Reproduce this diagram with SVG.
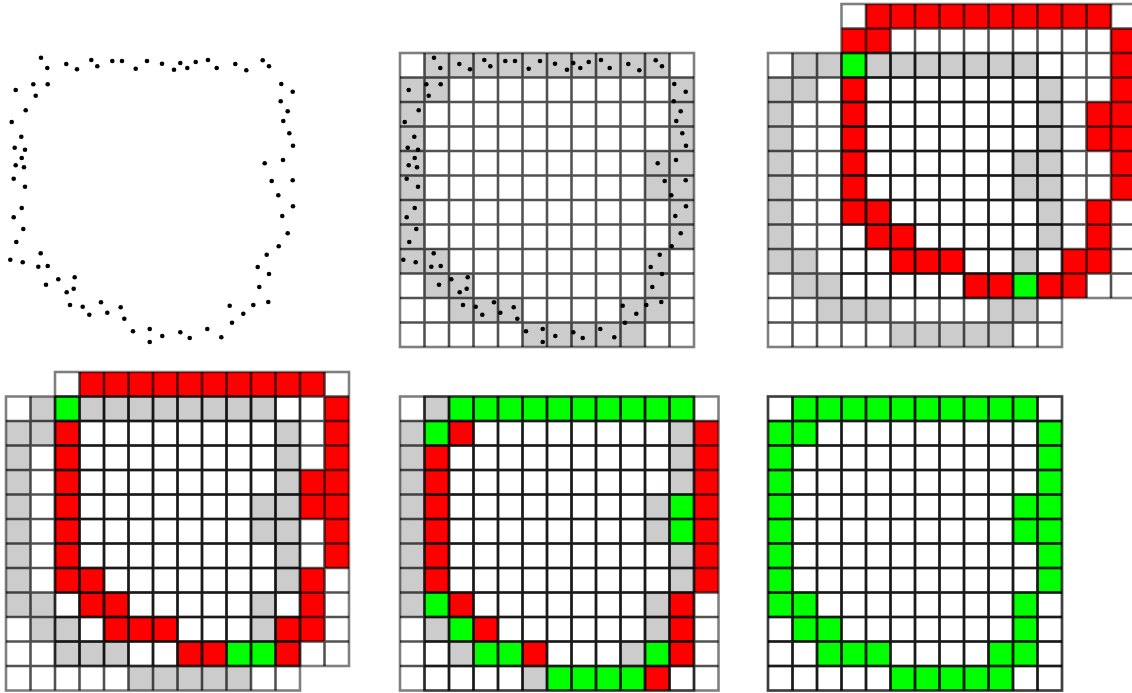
<svg xmlns="http://www.w3.org/2000/svg" xmlns:xlink="http://www.w3.org/1999/xlink" width="1132" height="693" viewBox="0 0 1132 693">
<style>
.g{fill:#cccccc}.r{fill:#ff0000}.n{fill:#00ff00}
.li{fill:none;stroke:#000;stroke-opacity:.68;stroke-width:.105}
.lo{fill:none;stroke:#000;stroke-opacity:.5;stroke-width:.105}
.dt{fill:#000}
</style>
<defs>
<path id="gl" d="M1 0V12M2 0V12M3 0V12M4 0V12M5 0V12M6 0V12M7 0V12M8 0V12M9 0V12M10 0V12M11 0V12M0 1H12M0 2H12M0 3H12M0 4H12M0 5H12M0 6H12M0 7H12M0 8H12M0 9H12M0 10H12M0 11H12"/>
<rect id="gb" width="12" height="12"/>
<path id="G" d="M1 0h10v1h-10zM0 1h2v1h-2zM11 1h1v1h-1zM0 2h1v6h-1zM11 2h1v2h-1zM10 4h2v2h-2zM11 6h1v2h-1zM0 8h2v1h-2zM10 8h1v2h-1zM1 9h2v1h-2zM2 10h3v1h-3zM9 10h2v1h-2zM5 11h5v1h-5z"/>
<g id="dots" class="dt">
<circle cx="41" cy="57.7" r="2.3"/><circle cx="47.3" cy="68" r="2.3"/><circle cx="66.3" cy="64" r="2.3"/><circle cx="77" cy="69.3" r="2.3"/><circle cx="91.3" cy="60" r="2.3"/><circle cx="97.3" cy="66.3" r="2.3"/><circle cx="112.3" cy="61" r="2.3"/><circle cx="122" cy="61" r="2.3"/><circle cx="135.7" cy="68.7" r="2.3"/><circle cx="147" cy="61" r="2.3"/><circle cx="162" cy="63.7" r="2.3"/><circle cx="174" cy="69.7" r="2.3"/><circle cx="180.3" cy="63" r="2.3"/><circle cx="187.3" cy="68" r="2.3"/><circle cx="195.7" cy="62" r="2.3"/><circle cx="208" cy="60" r="2.3"/><circle cx="216.7" cy="68" r="2.3"/><circle cx="235.3" cy="64" r="2.3"/><circle cx="246.3" cy="70.3" r="2.3"/><circle cx="262.7" cy="60.3" r="2.3"/><circle cx="269" cy="66.3" r="2.3"/>
<circle cx="15.7" cy="90" r="2.3"/><circle cx="33.3" cy="84.3" r="2.3"/><circle cx="47.7" cy="84.3" r="2.3"/><circle cx="35.7" cy="95.7" r="2.3"/><circle cx="281.3" cy="84" r="2.3"/><circle cx="292.7" cy="91.7" r="2.3"/><circle cx="280.7" cy="101.3" r="2.3"/><circle cx="287.7" cy="111.3" r="2.3"/><circle cx="25.7" cy="110.3" r="2.3"/><circle cx="11.7" cy="122" r="2.3"/><circle cx="283.3" cy="121" r="2.3"/><circle cx="289.3" cy="133.3" r="2.3"/><circle cx="21.3" cy="136.7" r="2.3"/><circle cx="293" cy="145.7" r="2.3"/><circle cx="14.7" cy="147.7" r="2.3"/><circle cx="25" cy="149.7" r="2.3"/><circle cx="21.7" cy="158" r="2.3"/><circle cx="15.7" cy="165.3" r="2.3"/><circle cx="24" cy="167.3" r="2.3"/><circle cx="283" cy="160" r="2.3"/><circle cx="264.7" cy="163.3" r="2.3"/><circle cx="13.7" cy="178.7" r="2.3"/><circle cx="25" cy="186.7" r="2.3"/><circle cx="271.7" cy="181" r="2.3"/><circle cx="292.7" cy="180.3" r="2.3"/><circle cx="278.3" cy="195.3" r="2.3"/><circle cx="293" cy="206.3" r="2.3"/><circle cx="21.7" cy="208" r="2.3"/><circle cx="13.7" cy="217.3" r="2.3"/><circle cx="282.3" cy="216" r="2.3"/><circle cx="23.3" cy="229" r="2.3"/><circle cx="287.7" cy="233.3" r="2.3"/><circle cx="16.3" cy="242" r="2.3"/><circle cx="278.7" cy="246.3" r="2.3"/><circle cx="40.7" cy="253.3" r="2.3"/><circle cx="266.7" cy="254.7" r="2.3"/><circle cx="10.3" cy="259.7" r="2.3"/><circle cx="22.7" cy="262.3" r="2.3"/><circle cx="38.3" cy="266.7" r="2.3"/><circle cx="47.7" cy="266" r="2.3"/><circle cx="257.7" cy="267" r="2.3"/><circle cx="269" cy="274" r="2.3"/>
<circle cx="74.7" cy="277.3" r="2.3"/><circle cx="58.3" cy="279.3" r="2.3"/><circle cx="46" cy="284.7" r="2.3"/><circle cx="73.7" cy="288.7" r="2.3"/><circle cx="66.7" cy="292.3" r="2.3"/><circle cx="259.3" cy="287" r="2.3"/><circle cx="70" cy="305" r="2.3"/><circle cx="82.7" cy="306.7" r="2.3"/><circle cx="101" cy="302.3" r="2.3"/><circle cx="120.7" cy="307.3" r="2.3"/><circle cx="229.7" cy="305.7" r="2.3"/><circle cx="253.3" cy="305" r="2.3"/><circle cx="268.3" cy="302" r="2.3"/><circle cx="89.3" cy="314.7" r="2.3"/><circle cx="107.3" cy="312.7" r="2.3"/><circle cx="243.3" cy="313.7" r="2.3"/><circle cx="124.3" cy="318.7" r="2.3"/><circle cx="232" cy="322.7" r="2.3"/><circle cx="133" cy="331.3" r="2.3"/><circle cx="149.7" cy="329" r="2.3"/><circle cx="162.3" cy="336" r="2.3"/><circle cx="180.3" cy="332.3" r="2.3"/><circle cx="189.7" cy="338" r="2.3"/><circle cx="207.3" cy="329" r="2.3"/><circle cx="221.3" cy="337.3" r="2.3"/><circle cx="149.7" cy="342" r="2.3"/>
</g>
</defs>
<rect width="1132" height="693" fill="#fff"/>
<g id="panel1"><use href="#dots"/></g>
<g id="panel2">
<g transform="translate(400 53) scale(24.5)">
<use href="#G" class="g"/>
<use href="#gl" class="li"/><use href="#gb" class="lo"/>
</g>
<use href="#dots" x="393"/>
</g>
<g id="panel3" transform="translate(768 53) scale(24.5)">
<path class="g" d="M1 0h2v1h-2zM4 0h7v1h-7zM0 1h2v1h-2zM11 1h1v1h-1zM0 2h1v6h-1zM11 2h1v2h-1zM10 4h2v2h-2zM11 6h1v2h-1zM0 8h2v1h-2zM10 8h1v1h-1zM1 9h2v1h-2zM2 10h3v1h-3zM9 10h2v1h-2zM5 11h5v1h-5z"/>
<path class="r" d="M4 -2h10v1h-10zM3 -1h2v1h-2zM14 -1h1v7h-1zM3 1h1v6h-1zM13 2h1v2h-1zM4 6h1v2h-1zM13 6h1v3h-1zM5 7h1v2h-1zM6 8h2v1h-2zM12 8h1v2h-1zM8 9h2v1h-2zM11 9h1v1h-1z"/>
<path class="n" d="M3 0h1v1h-1zM10 9h1v1h-1z"/>
<use href="#gl" class="li"/><use href="#gb" class="lo"/>
<use href="#gl" x="3" y="-2" class="li"/><use href="#gb" x="3" y="-2" class="lo"/>
</g>
<g id="panel4" transform="translate(6 396.5) scale(24.5)">
<path class="g" d="M1 0h1v1h-1zM3 0h8v1h-8zM0 1h2v1h-2zM11 1h1v1h-1zM0 2h1v6h-1zM11 2h1v2h-1zM10 4h2v2h-2zM11 6h1v2h-1zM0 8h2v1h-2zM10 8h1v2h-1zM1 9h2v1h-2zM2 10h3v1h-3zM5 11h5v1h-5z"/>
<path class="r" d="M3 -1h10v1h-10zM13 0h1v7h-1zM2 1h1v7h-1zM12 3h1v2h-1zM3 7h1v2h-1zM12 7h1v3h-1zM4 8h1v2h-1zM5 9h2v1h-2zM11 9h1v2h-1zM7 10h2v1h-2z"/>
<path class="n" d="M2 0h1v1h-1zM9 10h2v1h-2z"/>
<use href="#gl" class="li"/><use href="#gb" class="lo"/>
<use href="#gl" x="2" y="-1" class="li"/><use href="#gb" x="2" y="-1" class="lo"/>
</g>
<g id="panel5" transform="translate(400 396.5) scale(24.5)">
<path class="g" d="M1 0h1v1h-1zM0 1h1v8h-1zM11 1h1v3h-1zM10 4h1v2h-1zM11 6h1v2h-1zM10 8h1v2h-1zM1 9h1v1h-1zM2 10h1v1h-1zM9 10h1v1h-1zM5 11h1v1h-1z"/>
<path class="n" d="M2 0h10v1h-10zM1 1h1v1h-1zM11 4h1v2h-1zM1 8h1v1h-1zM2 9h1v1h-1zM3 10h2v1h-2zM10 10h1v1h-1zM6 11h4v1h-4z"/>
<path class="r" d="M2 1h1v1h-1zM12 1h1v7h-1zM1 2h1v6h-1zM2 8h1v1h-1zM11 8h1v3h-1zM3 9h1v1h-1zM5 10h1v1h-1zM10 11h1v1h-1z"/>
<use href="#gl" class="li"/><use href="#gb" class="lo"/>
<use href="#gl" x="1" class="li"/><use href="#gb" x="1" class="lo"/>
</g>
<g id="panel6" transform="translate(768 396.5) scale(24.5)">
<use href="#G" class="n"/>
<use href="#gl" class="li"/><use href="#gb" class="lo"/>
<use href="#gl" class="li"/><use href="#gb" class="lo"/>
</g>
</svg>
